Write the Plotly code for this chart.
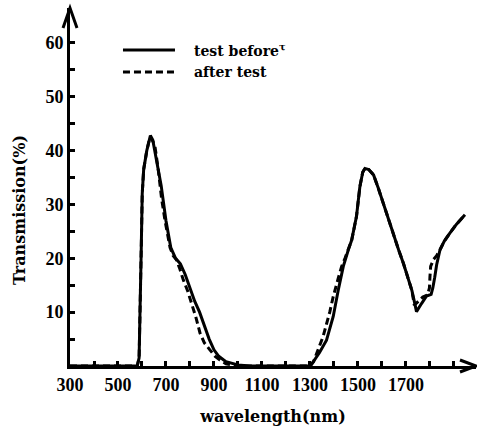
import plotly.graph_objects as go

# ---- data ----
wl_before = [300, 580, 588, 593, 597, 601, 607, 620, 635, 645, 660, 680, 700, 720, 740,
             760, 780, 800, 820, 840, 860, 880, 900, 920, 950, 1000, 1050,
             1296, 1305, 1314, 1340, 1369, 1397, 1418, 1439, 1460, 1474, 1494, 1508,
             1520, 1529, 1545, 1565, 1585, 1605, 1625, 1647, 1670, 1690, 1710, 1725,
             1735, 1744, 1765, 1786, 1805, 1812, 1820, 1828, 1842, 1860, 1883, 1910, 1946]
t_before = [0, 0, 1.5, 10, 22, 32, 36.5, 40, 42.8, 42, 38.5, 33.5, 27, 22, 20,
            19, 17, 14.5, 12, 10, 7.5, 5, 3, 1.8, 0.8, 0.2, 0,
            0, 0.2, 0.8, 2.5, 4.8, 9.2, 14.1, 18.5, 21.6, 23.4, 27.8, 33.3,
            36, 36.7, 36.5, 35.5, 33, 30.2, 27.5, 24.7, 21.5, 19, 16, 14,
            12, 10.1, 11.6, 13, 13.3, 14.5, 16.5, 18.8, 21.6, 23.2, 24.7, 26.3, 28.1]

wl_after = [300, 580, 588, 593, 597, 601, 607, 620, 633, 645, 654, 668, 682, 696, 710,
            717, 730, 744, 758, 772, 790, 807, 825, 842, 860, 883, 905, 925, 950, 1000,
            1300, 1315, 1334, 1355, 1383, 1397, 1418, 1432, 1446, 1460, 1474, 1494,
            1508, 1520, 1529, 1545, 1565, 1585, 1605, 1625, 1647, 1670, 1690, 1710,
            1725, 1735, 1750, 1770, 1790, 1798, 1800, 1803, 1815, 1828, 1842, 1860,
            1883, 1910, 1946]
t_after = [0, 0, 1.5, 10, 22, 32, 36.5, 40, 42.5, 41.8, 40.8, 36.4, 31, 27, 24,
           22, 20.5, 19.7, 18, 16, 14, 11.7, 9, 6.1, 4.3, 3, 1.8, 1.1, 0.4, 0,
           0, 0.8, 3, 5.5, 10.1, 12.9, 16.3, 18.5, 20, 21.6, 23.4, 27.8,
           33.3, 36, 36.7, 36.5, 35.5, 33, 30.2, 27.5, 24.7, 21.5, 19, 16,
           14, 11.3, 12, 12.8, 13.2, 14.5, 16.5, 18.5, 19.8, 20.5, 21.6, 23.2,
           24.7, 26.3, 28.1]

x_tickvals = [300, 500, 700, 900, 1100, 1300, 1500, 1700]
x_ticklabels = ["300", "500", "700", "900", "1100", "1300", "1500", "1700"]
x_minor_ticks = [400, 600, 800, 1000, 1200, 1400, 1600, 1800, 1900]
y_tickvals = [10, 20, 30, 40, 50, 60]
y_ticklabels = ["10", "20", "30", "40", "50", "60"]
y_minor_ticks = [5, 15, 25, 35, 45, 55]

series_names = ["test before<sup>τ</sup>", "after test"]
x_title = "wavelength(nm)"
y_title = "Transmission(%)"

X_MAX = 1992
Y_MAX = 66.5
DASH = "7px,4px"
FONT_TICK = dict(family="Liberation Serif", size=18, color="black", weight="bold")
FONT_TITLE = dict(family="DejaVu Serif", size=16, color="black", weight="bold")
TICKSTYLE = dict(ticks="inside", ticklen=5, tickwidth=3, tickcolor="black")

fig = go.Figure()
fig.add_trace(go.Scatter(x=wl_before, y=t_before, mode="lines", name=series_names[0],
                         line=dict(color="black", width=3), showlegend=False))
fig.add_trace(go.Scatter(x=wl_after, y=t_after, mode="lines", name=series_names[1],
                         line=dict(color="black", width=3, dash=DASH), showlegend=False))

fig.update_xaxes(range=[300, X_MAX], showline=True, linewidth=3, linecolor="black",
                 showgrid=False, zeroline=False, tickmode="array", tickvals=x_tickvals,
                 ticktext=x_ticklabels, tickfont=FONT_TICK, **TICKSTYLE,
                 minor=dict(tickmode="array", tickvals=x_minor_ticks, showgrid=False, **TICKSTYLE),
                 title=dict(text=x_title, font=FONT_TITLE, standoff=19))
fig.update_yaxes(range=[0, Y_MAX], showline=True, linewidth=3, linecolor="black",
                 showgrid=False, zeroline=False, tickmode="array", tickvals=y_tickvals,
                 ticktext=y_ticklabels, tickfont=FONT_TICK, **TICKSTYLE,
                 minor=dict(tickmode="array", tickvals=y_minor_ticks, showgrid=False, **TICKSTYLE))

# y-axis title placed where the reference has it (below the axis centre)
fig.add_annotation(x=-0.123, y=0.436, xref="paper", yref="paper", text=y_title,
                   showarrow=False, xanchor="center", yanchor="middle", textangle=-90, font=FONT_TITLE)

# axis arrowheads (open carets, sized in pixels, anchored at the axis ends)
fig.add_shape(type="path", xref="paper", yref="paper", xsizemode="pixel", ysizemode="pixel",
              xanchor=0, yanchor=1, path="M-7,-20 L0,0 L7,-20",
              line=dict(color="black", width=3), layer="above")
fig.add_shape(type="path", xref="paper", yref="paper", xsizemode="pixel", ysizemode="pixel",
              xanchor=1, yanchor=0, path="M-16,6 L0,0 L-16,-6",
              line=dict(color="black", width=3), layer="above")

# legend drawn as in the reference
leg_x0, leg_x1, leg_tx = 0.1305, 0.2586, 0.300
leg_y = [0.8827, 0.8212]
dashes = ["solid", DASH]
for name, yy, d in zip(series_names, leg_y, dashes):
    fig.add_shape(type="line", xref="paper", yref="paper", x0=leg_x0, x1=leg_x1, y0=yy, y1=yy,
                  line=dict(color="black", width=3, dash=d))
    fig.add_annotation(x=leg_tx, y=yy, xref="paper", yref="paper", text=name, showarrow=False,
                       xanchor="left", yanchor="middle",
                       font=dict(family="DejaVu Serif", size=14, color="black", weight="bold"))

fig.update_layout(width=477, height=426, margin=dict(l=70, r=1, t=8, b=60, autoexpand=False),
                  paper_bgcolor="white", plot_bgcolor="white")

fig.write_html("out.html")
